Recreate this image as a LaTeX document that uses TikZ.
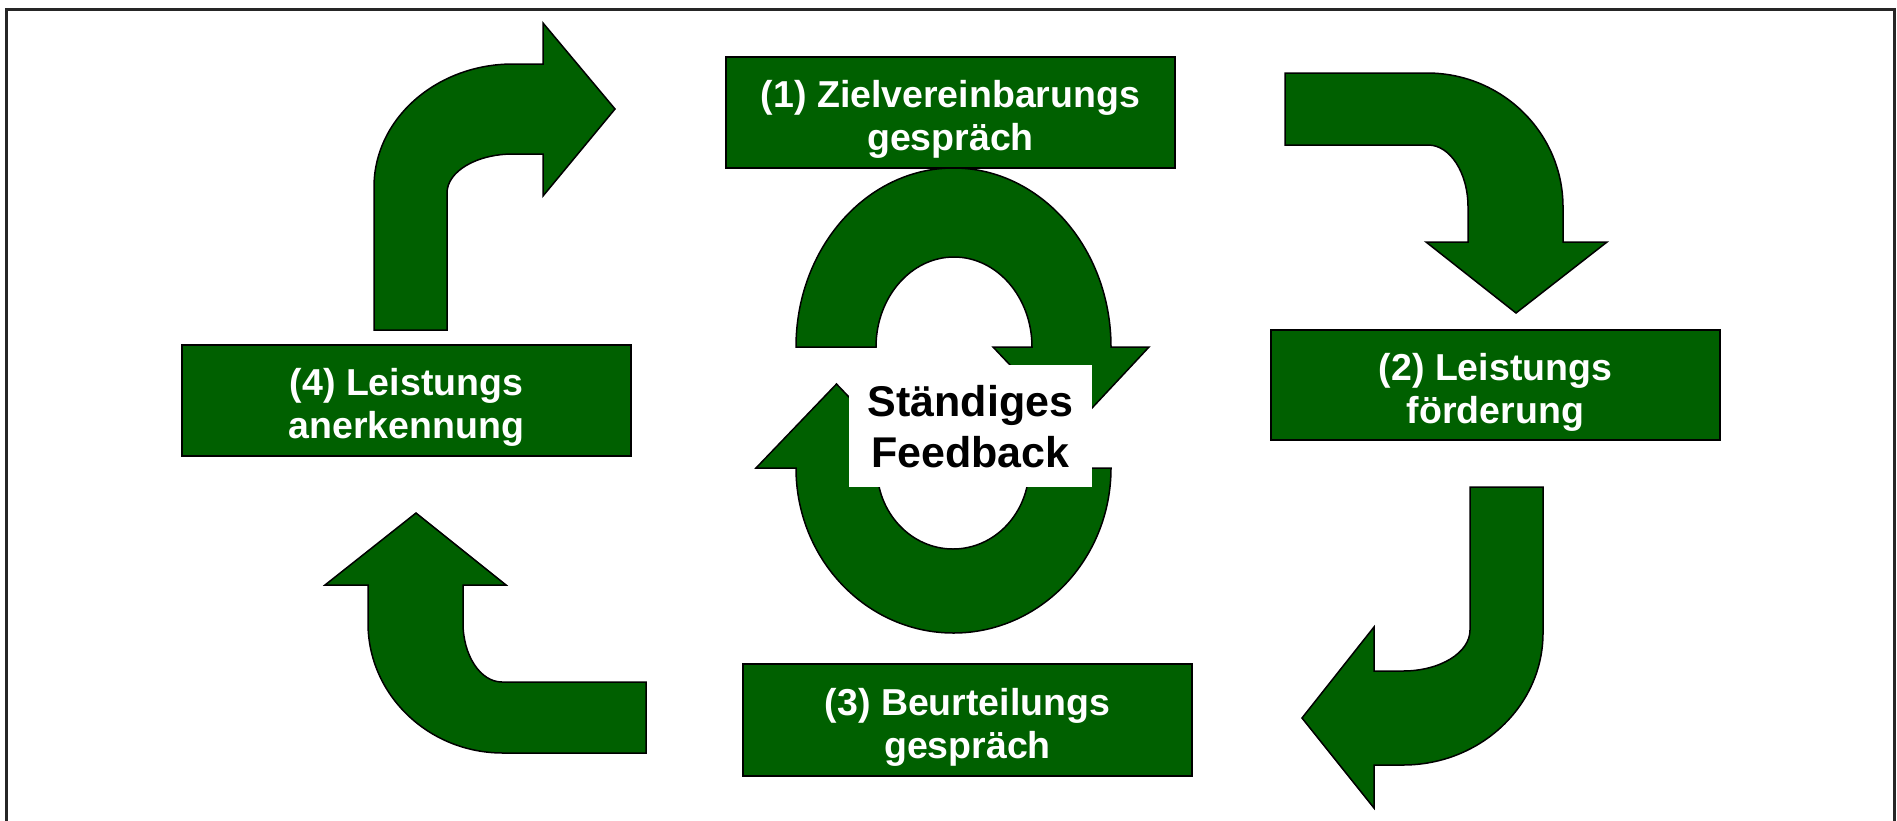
\documentclass[tikz,border=0pt]{standalone}
\usepackage{fontspec}
\setmainfont{Liberation Sans}
\definecolor{dkgreen}{RGB}{0,96,0}
\begin{document}
\begin{tikzpicture}[x=1pt,y=-1pt,
  arrowshape/.style={fill=dkgreen,draw=black,line width=1.5pt,line join=miter},
  stagebox/.style={rectangle,fill=dkgreen,draw=black,line width=1.5pt,minimum width=449pt,minimum height=111pt,inner sep=0pt},
  stagetext/.style={inner sep=0pt,align=center,text=white,font=\bfseries\fontsize{37.5}{43}\selectfont},
  fbbox/.style={rectangle,fill=white,draw=none,minimum width=243pt,minimum height=122pt,inner sep=0pt},
  fbtext/.style={inner sep=0pt,align=center,text=black,font=\bfseries\fontsize{43}{51}\selectfont}]
\useasboundingbox (0,0) rectangle (1897,820);
\fill[white] (0,0) rectangle (1897,820);
% frame
\draw[line width=3pt,black!85] (6,830) -- (6,9) -- (1894,9) -- (1894,830);
% stage boxes
\node[stagebox] (s1) at (950.5,112.5) {};
\node[stagebox,minimum height=110pt] (s2) at (1495.5,385) {};
\node[stagebox,minimum height=112pt] (s3) at (967.5,720) {};
\node[stagebox] (s4) at (406.5,400.5) {};
\node[stagetext] (t1) at ([yshift=-7pt]s1.center) {(1) Zielvereinbarungs\\gespräch};
\node[stagetext] (t2) at ([yshift=-7pt]s2.center) {(2) Leistungs\\förderung};
\node[stagetext] (t3) at ([yshift=-7pt]s3.center) {(3) Beurteilungs\\gespräch};
\node[stagetext] (t4) at ([yshift=-7pt]s4.center) {(4) Leistungs\\anerkennung};
% top-left bent arrow
\draw[arrowshape] (374,330) -- (374,187)
  arc[start angle=180,end angle=270,x radius=139,y radius=123]
  -- (543,64) -- (543,23) -- (615,109) -- (543,196) -- (543,154) -- (513,154)
  arc[start angle=270,end angle=180,x radius=66,y radius=39]
  -- (447,330) -- cycle;
% top-right bent arrow
\draw[arrowshape] (1285,73) -- (1427,73)
  arc[start angle=270,end angle=360,x radius=136,y radius=134]
  -- (1563,242) -- (1607,242) -- (1516,313) -- (1426,242) -- (1468,242) -- (1468,207)
  arc[start angle=0,end angle=-90,x radius=40,y radius=62]
  -- (1285,145) -- cycle;
% bottom-right bent arrow
\draw[arrowshape] (1470,487) -- (1543,487) -- (1543,633)
  arc[start angle=0,end angle=90,x radius=140,y radius=132]
  -- (1374,765) -- (1374,808) -- (1302,718) -- (1374,627) -- (1374,671) -- (1403,671)
  arc[start angle=90,end angle=0,x radius=67,y radius=41]
  -- cycle;
% bottom-left bent arrow
\draw[arrowshape] (416,513) -- (506,585) -- (463,585) -- (463,623)
  arc[start angle=180,end angle=90,x radius=39,y radius=59]
  -- (646,682) -- (646,753) -- (503,753)
  arc[start angle=90,end angle=180,x radius=135,y radius=130]
  -- (368,585) -- (325,585) -- cycle;
% centre circular arrows
\draw[arrowshape] (796,347)
  arc[start angle=180,end angle=360,x radius=157.5,y radius=179]
  -- (1149,347) -- (1071.5,430) -- (993,347) -- (1032,347)
  arc[start angle=360,end angle=180,x radius=78,y radius=90]
  -- cycle;
\draw[arrowshape] (1111,468)
  arc[start angle=0,end angle=180,x radius=157.5,y radius=165]
  -- (756,468) -- (836.5,384) -- (917,468) -- (877,468)
  arc[start angle=180,end angle=0,x radius=76,y radius=81]
  -- cycle;
\node[fbbox] (fb) at (970.5,426) {};
\node[fbtext] (fbt) at ([yshift=-1pt]fb.center) {Ständiges\\Feedback};
\end{tikzpicture}
\end{document}
